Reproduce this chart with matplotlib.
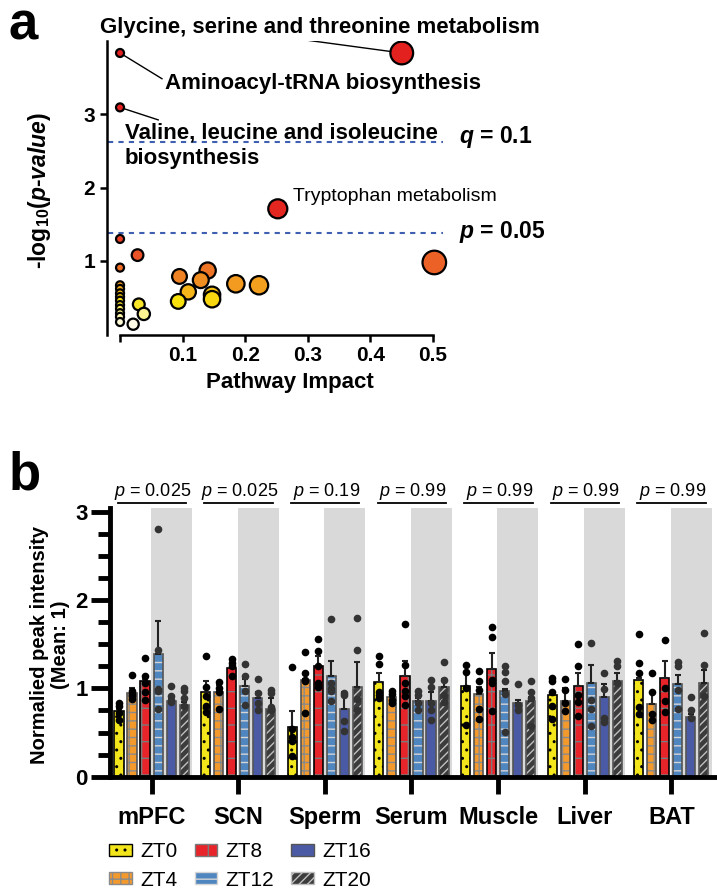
import numpy as np
import matplotlib.pyplot as plt
from matplotlib.colors import LinearSegmentedColormap, Normalize
from matplotlib.patches import Patch

plt.rcParams['font.family'] = 'Liberation Sans'
plt.rcParams['mathtext.fontset'] = 'custom'
plt.rcParams['mathtext.rm'] = 'Liberation Sans:bold'
plt.rcParams['mathtext.it'] = 'Liberation Sans:bold:italic'
plt.rcParams['mathtext.bf'] = 'Liberation Sans:bold'
plt.rcParams['mathtext.sf'] = 'Liberation Sans:italic'
plt.rcParams['hatch.linewidth'] = 1.0

# === panel a: pathway analysis ===
impact = [0.45, 0.0, 0.0, 0.252, 0.502, 0.0, 0.028, 0.0,
          0.0, 0.0, 0.0, 0.0, 0.0, 0.0, 0.0, 0.0, 0.0, 0.0,
          0.030, 0.038, 0.021, 0.095, 0.140, 0.129, 0.109, 0.147, 0.093, 0.147,
          0.185, 0.222]
logp = [3.83, 3.83, 3.09, 1.71, 0.98, 1.30, 1.08, 0.91,
        0.67, 0.62, 0.56, 0.51, 0.46, 0.40, 0.35, 0.29, 0.24, 0.17,
        0.41, 0.28, 0.14, 0.79, 0.87, 0.74, 0.58, 0.54, 0.45, 0.48,
        0.69, 0.67]
q_line = 2.62
p_line = 1.38

# === panel b: peak intensities ===
tissues = ['mPFC', 'SCN', 'Sperm', 'Serum', 'Muscle', 'Liver', 'BAT']
zts = ['ZT0', 'ZT4', 'ZT8', 'ZT12', 'ZT16', 'ZT20']
pvals = ['0.025', '0.025', '0.19', '0.99', '0.99', '0.99', '0.99']

mpfc_mean = [0.74, 0.95, 1.08, 1.39, 0.86, 0.81]
mpfc_sem = [0.03, 0.06, 0.03, 0.37, 0.03, 0.04]
mpfc_pts = [[0.84, 0.80, 0.72, 0.64], [1.15, 0.97, 0.94, 0.91, 0.88],
            [1.35, 1.14, 1.06, 0.96, 0.87], [2.80, 1.43, 0.99, 0.97, 0.77],
            [1.03, 0.91, 0.87, 0.85], [1.01, 0.97, 0.89, 0.80]]

scn_mean = [0.96, 0.96, 1.23, 1.03, 0.89, 0.77]
scn_sem = [0.12, 0.08, 0.05, 0.08, 0.07, 0.12]
scn_pts = [[1.37, 1.02, 0.91, 0.80, 0.73], [1.07, 1.00, 0.96, 0.77],
           [1.33, 1.29, 1.25, 1.14], [1.28, 1.14, 0.97, 0.81],
           [1.11, 0.95, 0.83, 0.75], [0.98, 0.95, 0.79, 0.75]]

sperm_mean = [0.56, 1.09, 1.25, 1.14, 0.77, 1.02]
sperm_sem = [0.18, 0.02, 0.12, 0.17, 0.19, 0.28]
sperm_pts = [[1.24, 0.54, 0.45, 0.40, 0.23], [1.41, 1.18, 1.10, 1.08, 0.72],
             [1.56, 1.42, 1.25, 1.06, 1.02], [1.79, 1.06, 1.01, 0.97, 0.86],
             [0.95, 0.92, 0.63, 0.52], [1.80, 1.43, 0.88, 0.75]]

serum_mean = [1.07, 0.90, 1.14, 0.86, 0.86, 1.02]
serum_sem = [0.11, 0.03, 0.17, 0.03, 0.10, 0.09]
serum_pts = [[1.37, 1.28, 0.96, 0.92, 0.89], [0.97, 0.94, 0.87, 0.83],
             [1.73, 1.26, 1.06, 0.97, 0.91, 0.81], [0.97, 0.92, 0.84, 0.75],
             [1.10, 1.02, 0.83, 0.75, 0.64], [1.30, 1.09, 0.93, 0.85]]

muscle_mean = [1.03, 0.94, 1.22, 0.97, 0.83, 0.86]
muscle_sem = [0.15, 0.08, 0.18, 0.02, 0.04, 0.04]
muscle_pts = [[1.26, 1.19, 1.00, 0.58], [1.20, 1.08, 0.98, 0.77, 0.65],
              [1.69, 1.58, 1.10, 1.06, 0.74], [1.25, 1.19, 1.08, 0.94, 0.51],
              [1.05, 0.81, 0.75], [1.08, 0.96, 0.89, 0.57]]

liver_mean = [0.92, 0.86, 1.03, 1.06, 0.90, 1.08]
liver_sem = [0.04, 0.14, 0.14, 0.20, 0.15, 0.09]
liver_pts = [[1.12, 1.08, 0.96, 0.80, 0.65], [1.11, 0.98, 0.84, 0.74],
             [1.50, 1.25, 0.92, 0.85, 0.69], [1.52, 0.87, 0.77, 0.57],
             [1.18, 0.99, 0.67, 0.62], [1.31, 1.25, 1.06]]

bat_mean = [1.10, 0.82, 1.12, 1.05, 0.68, 1.06]
bat_sem = [0.02, 0.13, 0.19, 0.10, 0.03, 0.15]
bat_pts = [[1.62, 1.29, 1.18, 0.79, 0.71], [1.17, 0.96, 0.71, 0.64],
           [1.55, 1.00, 0.86, 0.73], [1.30, 1.25, 0.98, 0.77],
           [0.90, 0.75, 0.66], [1.63, 1.26, 0.91]]

means = [mpfc_mean, scn_mean, sperm_mean, serum_mean, muscle_mean, liver_mean, bat_mean]
sems = [mpfc_sem, scn_sem, sperm_sem, serum_sem, muscle_sem, liver_sem, bat_sem]
points = [mpfc_pts, scn_pts, sperm_pts, serum_pts, muscle_pts, liver_pts, bat_pts]

face = ['#f2e51b', '#f49a2c', '#e8242b', '#4f86c0', '#4a5aa5', '#3c3c3c']
hatches = ['..', '++', '+', '--', '', '////']
hatch_col = ['black', '#8a8a8a', '#7a7a7a', '#d5d5d5', '#4a5aa5', '#c0c0c0']
edge = ['black', '#555555', 'black', '#555555', '#555555', '#555555']

fig = plt.figure(figsize=(7.17, 8.90), dpi=100)

# ---------- a ----------
ax1 = fig.add_axes([107/717, 1-334.5/890, 363/717, 294/890])
heat = LinearSegmentedColormap.from_list('heat', [
    (0, '#ffffff'), (0.1, '#fff59a'), (0.2, '#f8e20c'), (0.3, '#f6ad1c'),
    (0.4, '#f08524'), (0.5, '#ec6526'), (0.62, '#e94827'), (1, '#e3211f')])
norm = Normalize(0.1, 1.8)
rad = 4 + 11*np.sqrt(np.array(impact))
ax1.scatter(impact, logp, s=(2*rad*0.72)**2, c=heat(norm(np.array(logp))),
            edgecolors='black', linewidths=1.6, zorder=3)
ax1.plot([-0.02, 0.516], [q_line, q_line], ls=(0, (2.5, 2.5)), color='#3f5fb0', lw=1.5)
ax1.plot([-0.02, 0.516], [p_line, p_line], ls=(0, (2.5, 2.5)), color='#3f5fb0', lw=1.5)

ax1.set_xlim(-0.0208, 0.559)
ax1.set_ylim(0, 4)
for s in ['top', 'right']:
    ax1.spines[s].set_visible(False)
ax1.spines['left'].set_linewidth(1.8)
ax1.spines['bottom'].set_linewidth(1.8)
ax1.spines['bottom'].set_bounds(0, 0.5)
ax1.set_xticks([0, 0.1, 0.2, 0.3, 0.4, 0.5])
ax1.set_xticklabels(['', '0.1', '0.2', '0.3', '0.4', '0.5'])
ax1.set_yticks([1, 2, 3])
ax1.tick_params(width=1.8, length=5, labelsize=15)
for lab in ax1.get_xticklabels() + ax1.get_yticklabels():
    lab.set_fontweight('bold')

ax1.text(-0.032, 4.18, 'Glycine, serine and threonine metabolism', fontsize=16,
         fontweight='bold', va='center')
ax1.plot([0.276, 0.45], [4.03, 3.83], color='black', lw=1, zorder=2)
ax1.text(0.072, 3.42, 'Aminoacyl-tRNA biosynthesis', fontsize=16, fontweight='bold', va='center')
ax1.plot([0, 0.067], [3.83, 3.48], color='black', lw=1, zorder=2)
ax1.text(0.008, 2.57, 'Valine, leucine and isoleucine\nbiosynthesis', fontsize=16,
         fontweight='bold', va='center', linespacing=1.25)
ax1.plot([0, 0.061], [3.09, 2.92], color='black', lw=1, zorder=2)
ax1.text(0.276, 1.88, 'Tryptophan metabolism', fontsize=14, va='center')
ax1.text(0.542, 2.69, '$q$ = 0.1', fontsize=16.5, fontweight='bold', va='center')
ax1.text(0.542, 1.39, '$p$ = 0.05', fontsize=16.5, fontweight='bold', va='center')

fig.text(40/717, 1-191/890, '-log$_{10}$($p$-$value$)', rotation=90, fontsize=16.5,
         fontweight='bold', ha='center', va='center')
fig.text(290/717, 1-383/890, 'Pathway Impact', fontsize=16, fontweight='bold',
         ha='center', va='center')
fig.text(9/717, 1-40/890, 'a', fontsize=38, fontweight='bold', va='baseline')

# ---------- b ----------
ax2 = fig.add_axes([110/717, 1-776.7/890, 605/717, 268.4/890])
gap = 6.65
centers = np.arange(len(tissues)) * gap
for g, c in enumerate(centers):
    ax2.axvspan(c - 0.05, c + 3.1, color='#d9d9d9', lw=0, zorder=0)
    ax2.plot([c - 2.6, c + 2.65], [3.10, 3.10], color='black', lw=1.3, clip_on=False)
    ax2.text(c + 0.1, 3.23, r'$\mathsf{p}$ = ' + pvals[g], fontsize=13,
             ha='center', va='center')
    for i in range(len(zts)):
        x = c + i - 2.5
        m = means[g][i]
        ax2.bar(x, m, 0.7, color=face[i], hatch=hatches[i], edgecolor=hatch_col[i],
                linewidth=0, zorder=2)
        ax2.bar(x, m, 0.7, fill=False, edgecolor=edge[i], linewidth=1.2, zorder=2)
        ax2.errorbar(x, m, yerr=[[0], [sems[g][i]]], fmt='none', ecolor='#222222',
                     elinewidth=1.5, capsize=2.5, capthick=1.5, zorder=3)
        dc = 'black' if i < 3 else '#333333'
        ax2.plot([x] * len(points[g][i]), points[g][i], 'o', ms=5.5, color=dc,
                 mec='none', zorder=4)

ax2.set_xlim(-3.19, centers[-1] + 3.35)
ax2.set_ylim(0, 3.04)
for s in ['top', 'right']:
    ax2.spines[s].set_visible(False)
ax2.spines['left'].set_linewidth(3.5)
ax2.spines['bottom'].set_linewidth(3.5)
ax2.set_yticks([0, 1, 2, 3])
ax2.set_yticks(np.arange(0, 3.01, 0.25), minor=True)
ax2.set_xticks(centers)
ax2.set_xticklabels(tissues)
ax2.tick_params(axis='y', which='major', length=14, width=3.5, labelsize=16, pad=2)
ax2.tick_params(axis='y', which='minor', length=8.5, width=3.5)
ax2.tick_params(axis='x', length=12, width=3.5, labelsize=17, pad=9)
for lab in ax2.get_xticklabels() + ax2.get_yticklabels():
    lab.set_fontweight('bold')

fig.text(50/717, 1-645/890, 'Normalied peak intensity\n(Mean: 1)', rotation=90,
         fontsize=14.5, fontweight='bold', ha='center', va='center', multialignment='center',
         linespacing=1.1)
fig.text(9/717, 1-490/890, 'b', fontsize=38, fontweight='bold', va='baseline')

handles = [Patch(facecolor=face[i], hatch=hatches[i], edgecolor=hatch_col[i] if i != 4 else '#555555')
           for i in range(len(zts))]
fig.legend(handles, zts, ncol=3, loc='upper left', bbox_to_anchor=(99/717, 1-832/890),
           frameon=False, fontsize=15, handlelength=1.1, handleheight=0.5,
           handletextpad=0.4, columnspacing=0.8, labelspacing=0.45, borderpad=0)

fig.savefig('out.png', dpi=100)
